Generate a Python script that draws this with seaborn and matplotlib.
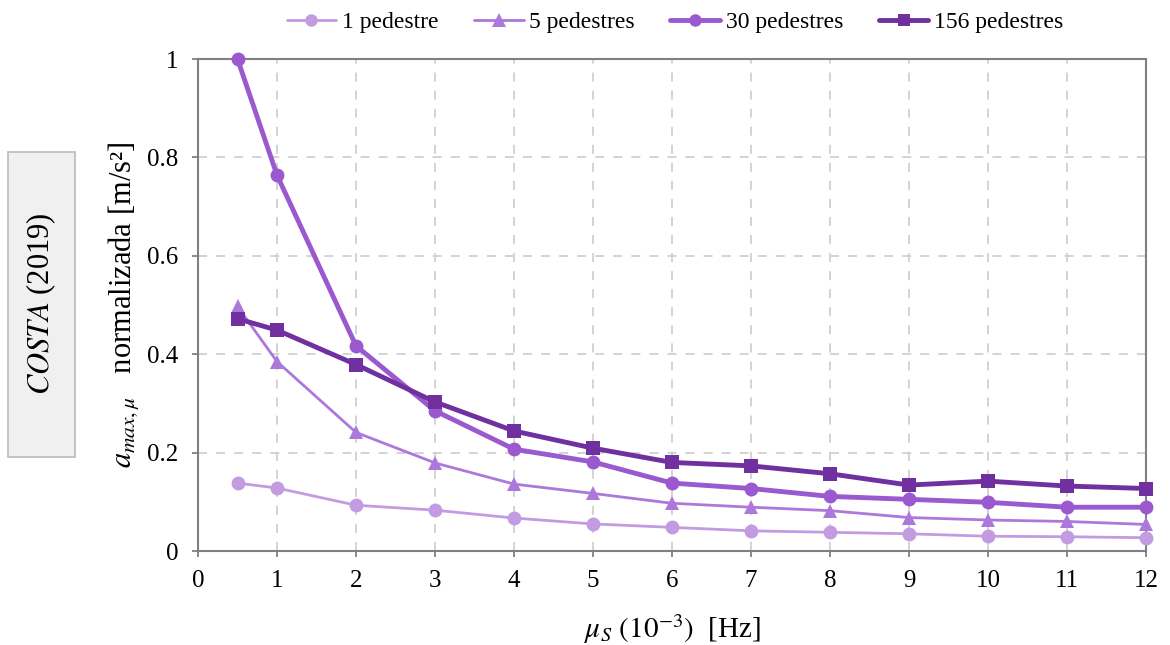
import numpy as np
import pandas as pd
import matplotlib
matplotlib.use("Agg")
import matplotlib.pyplot as plt
import matplotlib.patches as mpatches
import seaborn as sns

x_vals = [0.5, 1, 2, 3, 4, 5, 6, 7, 8, 9, 10, 11, 12]
s1 = [0.138, 0.128, 0.093, 0.083, 0.067, 0.055, 0.048, 0.041, 0.038, 0.035, 0.030, 0.029, 0.027]
s5 = [0.497, 0.385, 0.241, 0.179, 0.136, 0.117, 0.097, 0.089, 0.082, 0.068, 0.063, 0.060, 0.054]
s30 = [1.0, 0.764, 0.417, 0.285, 0.207, 0.181, 0.138, 0.127, 0.111, 0.105, 0.099, 0.089, 0.089]
s156 = [0.472, 0.449, 0.379, 0.303, 0.244, 0.209, 0.180, 0.173, 0.157, 0.134, 0.142, 0.132, 0.127]
labels = ["1 pedestre", "5 pedestres", "30 pedestres", "156 pedestres"]
x_ticks = list(range(0, 13))
y_ticks = [0, 0.2, 0.4, 0.6, 0.8, 1]
y_tick_labels = ["0", "0.2", "0.4", "0.6", "0.8", "1"]

sns.set_theme(style="white")
plt.rcParams["font.family"] = ["Liberation Serif", "DejaVu Serif"]
plt.rcParams["mathtext.fontset"] = "stix"
plt.rcParams["text.color"] = "black"
plt.rcParams["axes.labelcolor"] = "black"
plt.rcParams["xtick.color"] = "black"
plt.rcParams["ytick.color"] = "black"

fig = plt.figure(figsize=(11.7, 6.45), dpi=100)
ax = fig.add_axes([198 / 1170, 94 / 645, 948 / 1170, 492 / 645])

series = [s1, s5, s30, s156]
colors = ["#C39BE0", "#AD78DB", "#9B59D0", "#7030A0"]
markers = ["o", "^", "o", "s"]
lws = [2.0, 2.0, 3.5, 3.5]
msizes = [10, 10.5, 10, 10]

for vals, lab, c, m, lw, ms in zip(series, labels, colors, markers, lws, msizes):
    df = pd.DataFrame({"x": x_vals, "y": vals})
    sns.lineplot(data=df, x="x", y="y", ax=ax, color=c, marker=m, linewidth=lw,
                 markersize=ms, markeredgewidth=0, label=lab, clip_on=False, zorder=3)

ax.set_xlim(0, 12)
ax.set_ylim(0, 1)
ax.set_xticks(x_ticks)
ax.set_xticklabels([str(t) for t in x_ticks])
ax.set_yticks(y_ticks)
ax.set_yticklabels(y_tick_labels)
ax.grid(True, linestyle=(0, (5, 5)), color="#D0D0D0", linewidth=1.3)
for s in ax.spines.values():
    s.set_color("#808080")
    s.set_linewidth(1.5)
ax.tick_params(axis="both", which="both", direction="out", length=4, width=1.3,
               color="#808080", labelcolor="black", labelsize=18, bottom=True, left=True)
ax.tick_params(axis="x", pad=10)
ax.tick_params(axis="y", pad=10)

ax.set_xlabel(r"$\mu_S\ (10^{-3})$  [Hz]", fontsize=21, labelpad=14)
ax.set_ylabel(r"$a_{max,\mu}$   normalizada [m/s²]", fontsize=22, labelpad=4)

leg = ax.legend(loc="center", bbox_to_anchor=((675 - 198) / 948, (551 - 22) / 492), ncol=4,
                frameon=False, fontsize=17, handlelength=2.1, columnspacing=1.5,
                handletextpad=0.25, markerscale=0.9)

box = mpatches.Rectangle((8 / 1170, 1 - 457 / 645), 67 / 1170, 305 / 645,
                         transform=fig.transFigure, facecolor="#F0F0F0",
                         edgecolor="#BFBFBF", linewidth=1.3)
fig.patches.append(box)
fig.text(41 / 1170, 1 - 304 / 645, r"$COSTA$ (2019)", rotation=90, ha="center", va="center",
         fontsize=22)

fig.savefig("out.png", dpi=100)
